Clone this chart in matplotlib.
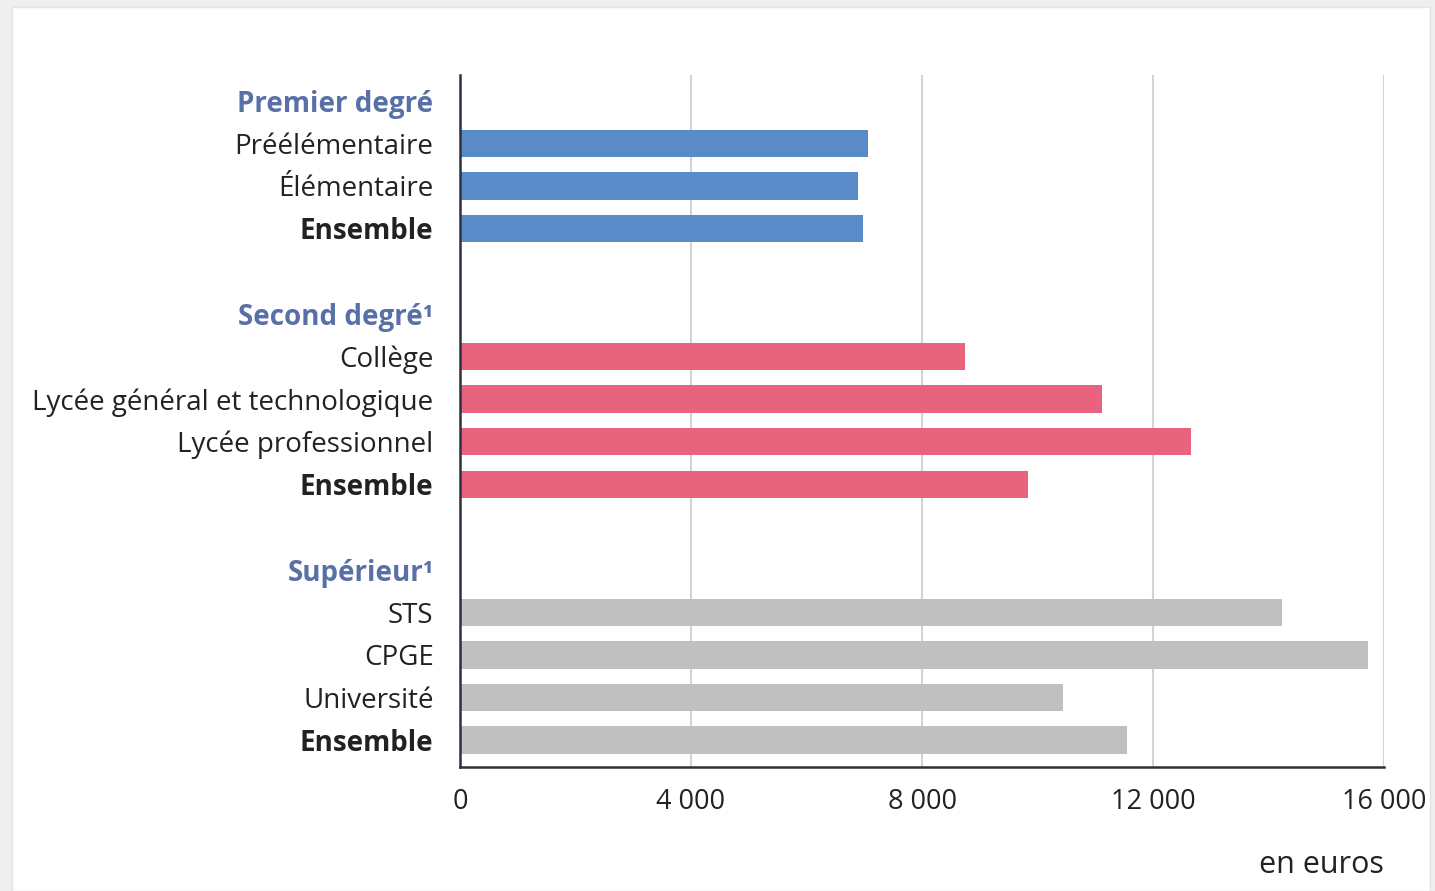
import matplotlib.pyplot as plt
from matplotlib.patches import Rectangle
from matplotlib.ticker import FuncFormatter

plt.rcParams['font.family'] = ['Open Sans', 'DejaVu Sans']

# data (euros)
premier_labels = ['Préélémentaire', 'Élémentaire', 'Ensemble']
premier_values = [7070, 6890, 6980]
second_labels = ['Collège', 'Lycée général et technologique', 'Lycée professionnel', 'Ensemble']
second_values = [8750, 11120, 12660, 9830]
sup_labels = ['STS', 'CPGE', 'Université', 'Ensemble']
sup_values = [14230, 15720, 10440, 11550]
groups = ['Premier degré', 'Second degré¹', 'Supérieur¹']
xticks = [0, 4000, 8000, 12000, 16000]

colors = ['#5a8bc9', '#e8637e', '#c0c0c0']
head_color = '#5870a6'
text_color = '#222222'

fig = plt.figure(figsize=(14.35, 8.91), dpi=100)
fig.patch.set_facecolor('#efefef')
fig.patches.append(Rectangle((12 / 1435, 0), 1418 / 1435, 1 - 7 / 891,
                             transform=fig.transFigure, facecolor='white',
                             edgecolor='#e4e4e4', lw=1, zorder=-5))
ax = fig.add_axes([460 / 1435, 1 - 767 / 891, 924 / 1435, 692 / 891])

ylabels = []
row = 0
for gi, (labs, vals) in enumerate([(premier_labels, premier_values),
                                   (second_labels, second_values),
                                   (sup_labels, sup_values)]):
    ylabels.append((row, groups[gi], True))
    row += 1
    for lab, v in zip(labs, vals):
        ax.barh(row, v, height=0.64, color=colors[gi], zorder=2)
        ylabels.append((row, lab, False))
        row += 1
    row += 1

ax.set_yticks([r for r, _, _ in ylabels])
ax.set_yticklabels([t for _, t, _ in ylabels])
for tl, (_, t, head) in zip(ax.get_yticklabels(), ylabels):
    if head:
        tl.set_color(head_color)
        tl.set_fontweight('bold')
    elif t == 'Ensemble':
        tl.set_color(text_color)
        tl.set_fontweight('bold')
    else:
        tl.set_color(text_color)
ax.tick_params(axis='y', length=0, pad=19, labelsize=20)

ax.set_xlim(0, 16000)
ax.set_ylim(15.63, -0.6)
ax.set_xticks(xticks)
ax.xaxis.set_major_formatter(FuncFormatter(lambda v, p: f'{int(v):,}'.replace(',', ' ')))
ax.tick_params(axis='x', length=0, pad=15, labelsize=19.5, labelcolor=text_color)

ax.grid(axis='x', color='#d3d3d3', lw=1.5, zorder=1)
ax.set_axisbelow(True)
ax.set_facecolor('none')
for s in ['top', 'right']:
    ax.spines[s].set_visible(False)
for s in ['left', 'bottom']:
    ax.spines[s].set_color('#2e3040')
    ax.spines[s].set_linewidth(1.8)

fig.text(1384 / 1435, 1 - 865 / 891, 'en euros', ha='right', va='center',
         fontsize=22, color=text_color)

fig.savefig('out.png', dpi=100, facecolor=fig.get_facecolor())
